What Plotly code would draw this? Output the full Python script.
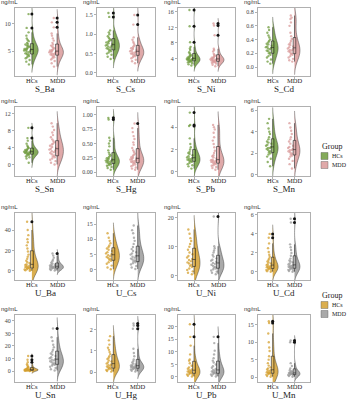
import plotly.graph_objects as go

W, H = 348, 400

panels = ["S_Ba", "S_Cs", "S_Ni", "S_Cd", "S_Sn", "S_Hg", "S_Pb", "S_Mn",
          "U_Ba", "U_Cs", "U_Ni", "U_Cd", "U_Sn", "U_Hg", "U_Pb", "U_Mn"]
groups = ["HCs", "MDD"]

# sample values (ng/mL)
S_Ba_HCs = [2.6,3.1,3.4,3.7,3.9,4.1,4.2,4.4,4.5,4.6,4.8,4.9,5.0,5.1,5.2,5.3,5.3,5.4,5.5,5.6,5.8,5.9,6.0,6.2,6.3,6.5,6.8,7.0,7.3,7.8,8.4,9.2,11.7]
S_Ba_MDD = [2.2,2.8,3.2,3.5,3.7,3.9,4.0,4.2,4.3,4.4,4.5,4.6,4.7,4.8,4.9,4.9,5.0,5.1,5.2,5.3,5.5,5.6,5.8,6.0,6.2,6.5,6.9,7.3,7.8,8.2,9.3,10.2,11.0]
S_Cs_HCs = [0.36,0.42,0.47,0.5,0.53,0.56,0.58,0.6,0.62,0.64,0.66,0.68,0.7,0.71,0.73,0.75,0.77,0.79,0.81,0.83,0.85,0.88,0.91,0.95,1.0,1.05,1.1,1.45,1.55]
S_Cs_MDD = [0.25,0.3,0.34,0.38,0.41,0.43,0.45,0.47,0.49,0.5,0.52,0.53,0.55,0.56,0.58,0.6,0.62,0.64,0.66,0.69,0.72,0.76,0.8,0.86,0.92,1.25,1.5]
S_Ni_HCs = [2.2,2.5,2.8,3.0,3.1,3.2,3.3,3.4,3.5,3.6,3.7,3.8,3.8,3.9,4.0,4.1,4.2,4.3,4.5,4.6,4.8,5.0,5.3,5.6,6.2,6.6,7.0,8.2,12.3,16.5]
S_Ni_MDD = [2.0,2.4,2.7,2.9,3.0,3.1,3.2,3.3,3.4,3.5,3.6,3.6,3.7,3.8,3.9,4.0,4.1,4.2,4.3,4.5,4.7,4.9,5.2,5.8,6.2,6.5,10.0,12.5,13.0]
S_Cd_HCs = [0.05,0.08,0.11,0.14,0.16,0.18,0.2,0.21,0.23,0.24,0.26,0.27,0.28,0.29,0.3,0.31,0.33,0.34,0.36,0.38,0.4,0.43,0.46,0.5,0.54,0.58]
S_Cd_MDD = [0.08,0.1,0.12,0.14,0.16,0.18,0.19,0.2,0.22,0.23,0.24,0.25,0.26,0.27,0.29,0.3,0.32,0.33,0.35,0.38,0.41,0.45,0.5,0.6,0.65,0.7,0.72,0.75]
S_Sn_HCs = [0.5,1.5,1.8,2.0,2.2,2.4,2.5,2.6,2.7,2.8,2.9,3.0,3.0,3.1,3.2,3.3,3.4,3.5,3.6,3.8,4.0,4.2,4.5,5.0,5.7,6.3,8.7]
S_Sn_MDD = [0.1,0.5,0.9,1.2,1.5,1.8,2.0,2.2,2.5,2.8,3.0,3.2,3.4,3.6,3.8,4.0,4.2,4.5,4.8,5.0,5.3,5.6,6.0,6.5,7.0,7.6,8.2,9.0,9.8]
S_Hg_HCs = [0.04,0.07,0.09,0.11,0.12,0.13,0.14,0.15,0.16,0.17,0.18,0.19,0.2,0.2,0.21,0.22,0.23,0.24,0.25,0.27,0.29,0.31,0.34,0.38,0.45,0.5,0.55,0.6,0.92,0.95]
S_Hg_MDD = [0.04,0.06,0.08,0.1,0.12,0.13,0.15,0.16,0.17,0.18,0.19,0.2,0.21,0.22,0.23,0.24,0.25,0.26,0.28,0.3,0.32,0.35,0.38,0.42,0.48,0.52,0.58,0.63,0.7,0.77,0.85]
S_Pb_HCs = [0.3,0.5,0.6,0.7,0.8,0.9,0.95,1.0,1.05,1.1,1.15,1.2,1.25,1.3,1.4,1.5,1.6,1.7,1.8,2.0,2.2,2.5,3.0,4.1,4.2,5.3]
S_Pb_MDD = [0.2,0.35,0.45,0.55,0.6,0.7,0.75,0.8,0.85,0.9,0.95,1.0,1.0,1.05,1.1,1.2,1.3,1.4,1.5,1.7,1.9,2.2,2.5,2.8,3.1,3.5,3.8,4.0,4.2]
S_Mn_HCs = [0.8,1.2,1.5,1.7,1.9,2.0,2.1,2.2,2.3,2.4,2.5,2.5,2.6,2.7,2.8,2.9,3.0,3.1,3.3,3.5,3.8,4.0,4.3,4.8,5.2]
S_Mn_MDD = [0.6,1.0,1.3,1.5,1.7,1.8,1.9,2.0,2.1,2.2,2.3,2.3,2.4,2.5,2.6,2.7,2.9,3.1,3.3,3.5,3.8,4.1,4.4,4.8]
U_Ba_HCs = [0.3,0.6,1.0,1.4,1.8,2.2,2.6,3.0,3.4,3.8,4.2,4.7,5.2,5.8,6.5,7.5,8.5,10,12,14,16,19,22,25,28,31,35,40,48]
U_Ba_MDD = [0.5,1.0,1.5,2.0,2.5,2.8,3.1,3.4,3.7,4.0,4.3,4.6,5.0,5.5,6.0,6.5,7.2,8.0,9.5,11,13,15,17]
U_Cs_HCs = [0.2,0.8,1.4,2.0,2.5,3.0,3.3,3.6,3.9,4.2,4.5,4.8,5.1,5.4,5.8,6.2,6.6,7.0,7.5,8.0,8.7,9.5,10.5,12.0]
U_Cs_MDD = [0.3,0.8,1.3,1.8,2.2,2.5,2.8,3.1,3.4,3.7,4.0,4.3,4.6,5.0,5.4,5.8,6.2,6.8,7.5,8.5,9.5,10.5,12.0,13.0,14.5]
U_Ni_HCs = [0.5,1.0,1.5,2.0,2.5,3.0,3.4,3.8,4.2,4.6,5.0,5.4,5.8,6.3,6.8,7.4,8.0,9.0,10,11,12,13,14.5,16]
U_Ni_MDD = [0.5,1.0,1.4,1.8,2.2,2.5,2.8,3.1,3.4,3.8,4.1,4.4,4.8,5.2,5.5,6.0,6.6,7.2,8.0,8.7,9.5,10.2,20.5]
U_Cd_HCs = [0.02,0.08,0.15,0.2,0.25,0.3,0.35,0.4,0.45,0.5,0.55,0.6,0.65,0.72,0.8,0.9,1.0,1.1,1.25,1.4,1.6,1.8,2.1,2.5,3.0,3.6,4.0]
U_Cd_MDD = [0.02,0.1,0.16,0.22,0.28,0.33,0.38,0.43,0.5,0.55,0.6,0.65,0.7,0.78,0.88,1.0,1.1,1.2,1.4,1.7,2.0,2.3,2.6,2.9,5.2,5.6]
U_Sn_HCs = [0.1,0.2,0.3,0.4,0.5,0.55,0.6,0.7,0.8,0.9,1.0,1.0,1.1,1.2,1.3,1.4,1.5,1.7,2.0,2.5,3.0,3.5,4.5,5.5,7.0,9.0,12.0]
U_Sn_MDD = [0.5,1.5,2.5,3.5,4.5,5.0,5.5,6.2,7.0,7.8,8.5,9.0,9.5,10.2,11,12,13,14,15.5,17,19,21,24,27,34]
U_Hg_HCs = [0.02,0.05,0.08,0.1,0.13,0.15,0.18,0.2,0.23,0.26,0.3,0.33,0.36,0.4,0.45,0.5,0.55,0.62,0.68,0.75,0.85,0.95,1.05,1.15,1.3,1.5,1.7]
U_Hg_MDD = [0.03,0.06,0.09,0.12,0.14,0.16,0.18,0.2,0.22,0.24,0.25,0.27,0.29,0.31,0.33,0.36,0.4,0.45,0.52,0.6,0.75,0.9,1.1,2.05,2.2,2.3]
U_Pb_HCs = [0.2,0.5,0.8,1.0,1.2,1.4,1.6,1.8,2.0,2.2,2.4,2.7,3.0,3.3,3.8,4.5,5.5,6.5,7.0,9.0,12.5,16.0,21.0]
U_Pb_MDD = [0.2,0.5,0.8,1.0,1.2,1.4,1.6,1.8,2.0,2.2,2.5,2.8,3.2,3.7,4.3,5.0,5.8,6.5,7.5,9.0,10.5,13.5,16.0]
U_Mn_HCs = [0.1,0.3,0.5,0.7,0.9,1.0,1.1,1.2,1.3,1.4,1.6,1.8,2.0,2.2,2.5,2.8,3.3,4.0,5.0,6.0,7.5,8.5,10.0,12.5,15.5,16.0]
U_Mn_MDD = [0.1,0.3,0.45,0.6,0.7,0.8,0.9,1.0,1.1,1.2,1.35,1.5,1.7,2.0,2.5,3.2,4.0,10.0,10.5]

# y-axis tick labels per panel
tick_labels = {
    "S_Ba": ["5", "10"], "S_Cs": ["0.0", "0.5", "1.0", "1.5"],
    "S_Ni": ["4", "8", "12", "16"], "S_Cd": ["0.0", "0.2", "0.4", "0.6", "0.8"],
    "S_Sn": ["0", "4", "8", "12"], "S_Hg": ["0.00", "0.25", "0.50", "0.75", "1.00"],
    "S_Pb": ["0", "2", "4"], "S_Mn": ["0", "2", "4", "6"],
    "U_Ba": ["0", "20", "40"], "U_Cs": ["0", "5", "10", "15"],
    "U_Ni": ["0", "10", "20"], "U_Cd": ["0", "2", "4", "6"],
    "U_Sn": ["0", "10", "20", "30", "40"], "U_Hg": ["0", "1", "2"],
    "U_Pb": ["0", "5", "10", "15", "20"], "U_Mn": ["0", "5", "10", "15"],
}
y_ranges = {
    "S_Ba": [0.5, 12.8], "S_Cs": [-0.08, 1.68], "S_Ni": [-0.5, 17.0], "S_Cd": [-0.13, 0.86],
    "S_Sn": [-2.6, 13.6], "S_Hg": [-0.07, 1.14], "S_Pb": [-0.36, 5.8], "S_Mn": [-0.1, 6.3],
    "U_Ba": [-8.8, 56.6], "U_Cs": [-3.3, 18.6], "U_Ni": [-1.5, 21.7], "U_Cd": [-0.85, 6.2],
    "U_Sn": [-8.7, 44.7], "U_Hg": [-0.47, 2.7], "U_Pb": [-2.0, 24.7], "U_Mn": [-1.4, 17.8],
}

data = {name: {"HCs": globals()[name + "_HCs"], "MDD": globals()[name + "_MDD"]} for name in panels}

colors = {
    "S": {"HCs": "#6f9b3d", "MDD": "#d99a9a"},
    "U": {"HCs": "#d4a030", "MDD": "#9a9a9a"},
}

def rgba(hexc, a):
    h = hexc.lstrip("#")
    return "rgba(%d,%d,%d,%.2f)" % (int(h[0:2], 16), int(h[2:4], 16), int(h[4:6], 16), a)

# pixel frame boxes
cols_px = [(15, 75), (97, 155), (178, 235), (258, 310)]
rows_px = [(8, 76), (107, 176), (213, 280), (315, 382)]

def fx(p):
    return p / W

def fy(p):
    return 1 - p / H

SERIF = "Liberation Serif"
fig = go.Figure()
layout = {}
annotations = []
shapes = []

for i, name in enumerate(panels):
    r, c = divmod(i, 4)
    k = i + 1
    xa = "x" if k == 1 else "x%d" % k
    ya = "y" if k == 1 else "y%d" % k
    prefix = name.split("_")[0]
    for g in groups:
        col = colors[prefix][g]
        vals = data[name][g]
        fig.add_trace(go.Violin(
            x=[g] * len(vals), y=vals, xaxis=xa, yaxis=ya,
            name=g, showlegend=False,
            side="positive", width=0.5, scalemode="width", spanmode="soft",
            fillcolor=rgba(col, 0.85), line=dict(color=rgba("#333333", 0.9), width=0.5),
            points="all", pointpos=-0.65, jitter=0.6,
            marker=dict(color=rgba(col, 0.75), size=2.4, line=dict(width=0)),
            box_visible=False, meanline_visible=False, hoverinfo="skip",
        ))
        fig.add_trace(go.Box(
            x=[g] * len(vals), y=vals, xaxis=xa, yaxis=ya,
            name=g, showlegend=False,
            width=0.12, whiskerwidth=0, boxpoints="outliers", pointpos=0, jitter=0,
            fillcolor=rgba(col, 0.6), line=dict(color="#222222", width=0.6),
            marker=dict(color="#111111", size=3.0, line=dict(width=0)),
            hoverinfo="skip",
        ))
    x0, x1 = cols_px[c]
    y0, y1 = rows_px[r]
    lo, hi = y_ranges[name]
    tl = tick_labels[name]
    layout["xaxis" if k == 1 else "xaxis%d" % k] = dict(
        domain=[fx(x0), fx(x1)], anchor=ya, type="category",
        categoryorder="array", categoryarray=groups, range=[-0.67, 1.71],
        showline=True, mirror=True, linecolor="#b0b0b0", linewidth=1,
        ticks="outside", ticklen=2, tickcolor="#b0b0b0", showgrid=False, zeroline=False,
        showticklabels=False,
    )
    layout["yaxis" if k == 1 else "yaxis%d" % k] = dict(
        domain=[fy(y1), fy(y0)], anchor=xa, range=[lo, hi],
        tickmode="array", tickvals=[float(t) for t in tl], ticktext=tl,
        showline=True, mirror=True, linecolor="#b0b0b0", linewidth=1,
        ticks="outside", ticklen=2, tickcolor="#b0b0b0", showgrid=False, zeroline=False,
        tickfont=dict(family=SERIF, size=6, color="#444"),
    )
    # category labels placed on the category axis, just below the frame
    for g in groups:
        annotations.append(dict(
            text=g, x=g, xref=xa, y=fy(y1 + 4.5), yref="paper",
            xanchor="center", yanchor="middle", showarrow=False,
            font=dict(family=SERIF, size=6.5, color="#222"),
        ))
    # panel name under each panel
    annotations.append(dict(
        text=name, x=fx((x0 + x1) / 2), y=fy(y1 + 12.8), xref="paper", yref="paper",
        xanchor="center", yanchor="middle", showarrow=False,
        font=dict(family=SERIF, size=9, color="#222"),
    ))
    annotations.append(dict(
        text="ng/mL", x=fx(x0 - 6), y=fy(y0 - 1), xref="paper", yref="paper",
        xanchor="center", yanchor="bottom", showarrow=False,
        font=dict(family="Liberation Sans", size=6, color="#333"),
    ))

# legends: "Group" title with two filled keys, one for serum (S) and one for urine (U)
legend_tops = {"S": 140, "U": 289}
for prefix, top in legend_tops.items():
    annotations.append(dict(
        text="Group", x=fx(320), y=fy(top), xref="paper", yref="paper",
        xanchor="left", yanchor="top", showarrow=False,
        font=dict(family=SERIF, size=8, color="#222"),
    ))
    for j, g in enumerate(groups):
        cy = top + 16 + j * 9
        shapes.append(dict(
            type="rect", xref="paper", yref="paper",
            x0=fx(321), x1=fx(328), y0=fy(cy + 3.5), y1=fy(cy - 3.5),
            fillcolor=rgba(colors[prefix][g], 0.85), line=dict(color="#555", width=0.4),
        ))
        annotations.append(dict(
            text=g, x=fx(330), y=fy(cy), xref="paper", yref="paper",
            xanchor="left", yanchor="middle", showarrow=False,
            font=dict(family=SERIF, size=6, color="#222"),
        ))

fig.update_layout(
    width=W, height=H, margin=dict(l=0, r=0, t=0, b=0, autoexpand=False),
    paper_bgcolor="white", plot_bgcolor="white", showlegend=False,
    violinmode="overlay", boxmode="overlay", violingap=0, boxgap=0,
    annotations=annotations, shapes=shapes, **layout,
)
# remove the browser's default 8px body margin so the figure sits at the page origin
fig.write_html(
    "out.html",
    config={"displayModeBar": False, "staticPlot": True},
    post_script="document.body.style.margin='0';document.body.style.overflow='hidden';",
)
